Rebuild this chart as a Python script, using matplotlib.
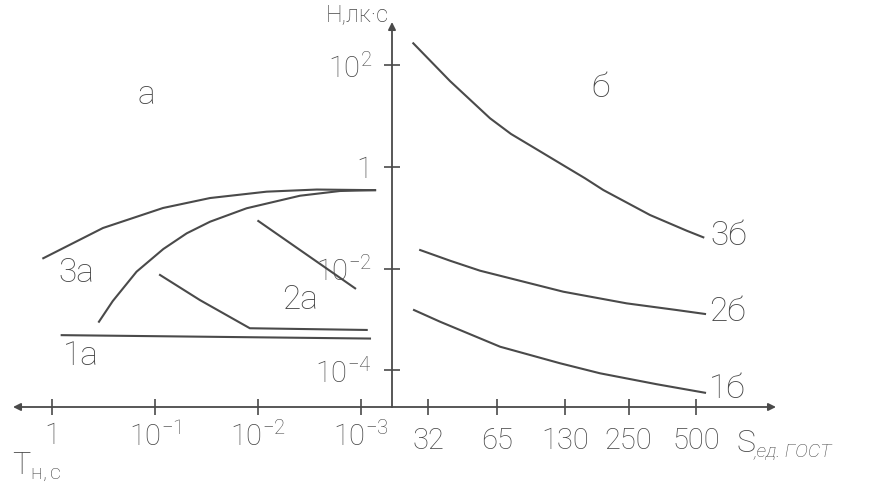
import matplotlib
matplotlib.use('Agg')
import matplotlib.pyplot as plt
from matplotlib.ticker import NullLocator

plt.rcParams['font.family'] = ['Roboto', 'DejaVu Sans']
plt.rcParams['font.weight'] = 'light'
plt.rcParams['mathtext.fontset'] = 'custom'
plt.rcParams['mathtext.rm'] = 'Roboto:light'
plt.rcParams['mathtext.it'] = 'Roboto:italic:light'

ink = '#4a4a4a'
txt = '#474747'

# panel а: exposure time T (s) -> H (lx*s)
t_3a = [1.215, 0.320, 0.0836, 0.0292, 0.00824, 0.00269, 0.00073]
h_3a = [0.0160, 0.0630, 0.156, 0.245, 0.327, 0.360, 0.350]
t_3a_low = [0.350, 0.257, 0.151, 0.0830, 0.0492, 0.0292, 0.0129, 0.00391, 0.00160, 0.00073]
h_3a_low = [9.0e-4, 2.3e-3, 8.7e-3, 0.0243, 0.0495, 0.0838, 0.154, 0.272, 0.337, 0.350]
t_2a = [0.0894, 0.0366, 0.0120, 0.00088]
h_2a = [7.5e-3, 2.4e-3, 6.7e-4, 6.2e-4]
t_2a_seg = [0.00993, 0.00114]
h_2a_seg = [0.0865, 0.00409]
t_1a = [0.805, 0.000818]
h_1a = [4.9e-4, 4.2e-4]

# panel б: sensitivity S (ед. ГОСТ) -> H
s_3b = [27.5, 40.1, 60.4, 74.9, 94.2, 123.9, 160.0, 193.1, 311.7, 454.2, 538.5]
h_3b = [272, 49.0, 9.10, 4.47, 2.44, 1.18, 0.600, 0.352, 0.1135, 0.0557, 0.0413]
s_2b = [29.5, 40.1, 54.5, 128.1, 245.4, 409.9, 548.0]
h_2b = [0.0232, 0.0143, 0.0091, 0.00351, 0.00207, 0.00153, 0.00128]
s_1b = [27.7, 36.2, 67.0, 123.9, 186.6, 333.8, 548.0]
h_1b = [1.53e-3, 9.0e-4, 2.9e-4, 1.37e-4, 8.7e-5, 5.3e-5, 3.6e-5]

t_ticks = [1, 0.1, 0.01, 0.001]
t_labels = ['1', '$10^{-1}$', '$10^{-2}$', '$10^{-3}$']
s_ticks = [32, 65, 130, 250, 500]
s_labels = ['32', '65', '130', '250', '500']
h_ticks = [1e2, 1, 1e-2, 1e-4]
h_labels = ['$10^{2}$', '1', '$10^{-2}$', '$10^{-4}$']

W, H = 876, 487
def fx(x):
    return x / W
def fy(y):
    return 1 - y / H

fig = plt.figure(figsize=(W / 100, H / 100), dpi=100)
ax_l = fig.add_axes([fx(13), fy(407), fx(392) - fx(13), fy(22) - fy(407)])
ax_r = fig.add_axes([fx(392), fy(407), fx(776) - fx(392), fy(22) - fy(407)])

ylo, yhi = 10 ** -4.724, 10 ** 2.854
for ax in (ax_l, ax_r):
    ax.set_xscale('log')
    ax.set_yscale('log')
    ax.set_ylim(ylo, yhi)
    for sp in ax.spines.values():
        sp.set_visible(False)
    ax.patch.set_alpha(0)
    ax.xaxis.set_minor_locator(NullLocator())
    ax.yaxis.set_minor_locator(NullLocator())

ax_l.set_xlim(10 ** 0.3786, 10 ** -3.301)
ax_r.set_xlim(22.1, 1135)

lw = 1.5
ax_l.plot(t_3a, h_3a, color=ink, lw=lw)
ax_l.plot(t_3a_low, h_3a_low, color=ink, lw=lw)
ax_l.plot(t_2a, h_2a, color=ink, lw=lw)
ax_l.plot(t_2a_seg, h_2a_seg, color=ink, lw=lw)
ax_l.plot(t_1a, h_1a, color=ink, lw=lw)
ax_r.plot(s_3b, h_3b, color=ink, lw=lw)
ax_r.plot(s_2b, h_2b, color=ink, lw=lw)
ax_r.plot(s_1b, h_1b, color=ink, lw=lw)

# axes with arrows
arr = dict(arrowstyle='-|>', color=ink, lw=1.3, mutation_scale=11, shrinkA=0, shrinkB=0)
ax_l.annotate('', xy=(0, 0), xytext=(1, 0), xycoords='axes fraction', arrowprops=arr)
ax_r.annotate('', xy=(1, 0), xytext=(0, 0), xycoords='axes fraction', arrowprops=arr)
ax_r.annotate('', xy=(0, 1), xytext=(0, 0), xycoords='axes fraction', arrowprops=arr)

fs = 21
ax_l.set_xticks(t_ticks)
ax_l.set_xticklabels(t_labels)
ax_l.tick_params(axis='x', direction='inout', length=11, width=1.2, color=ink,
                 labelsize=fs, labelcolor=txt, pad=5)
ax_l.tick_params(axis='y', left=False, labelleft=False)

ax_r.set_xticks(s_ticks)
ax_r.set_xticklabels(s_labels)
ax_r.tick_params(axis='x', direction='inout', length=11, width=1.2, color=ink,
                 labelsize=fs, labelcolor=txt, pad=9)
ax_r.set_yticks(h_ticks)
ax_r.set_yticklabels(h_labels)
ax_r.tick_params(axis='y', direction='inout', length=11, width=1.2, color=ink,
                 labelsize=fs, labelcolor=txt, pad=9)

# curve and panel labels
def lab(x, y, s, size=24):
    fig.text(fx(x), fy(y), s, fontsize=size, color=txt, ha='center', va='center')

lab(146, 95, 'а')
lab(601, 88, 'б')
lab(76, 273, '3а')
lab(300, 300, '2а')
lab(81, 356, '1а')
lab(729, 236, '3б')
lab(727, 312, '2б')
lab(727, 389, '1б')
fig.text(fx(389), fy(15), 'Н,лк·с', fontsize=17, color=txt, ha='right', va='center')
fig.text(fx(12), fy(466), r'T$_{\mathrm{н,с}}$', fontsize=fs + 1, color=txt, ha='left', va='center')
fig.text(fx(736), fy(443), 'S', fontsize=fs + 2, color=txt, ha='left', va='center')
fig.text(fx(754), fy(452), ',ед. ГОСТ', fontsize=14, color=txt, ha='left', va='center',
         style='italic')

fig.savefig('out.png', dpi=100, facecolor='white')
